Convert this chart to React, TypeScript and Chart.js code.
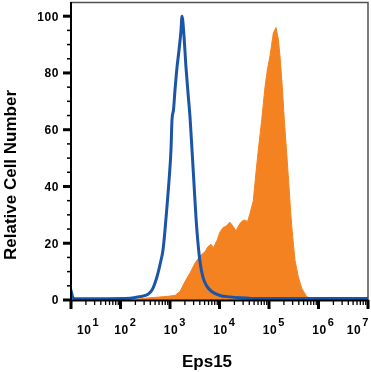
import { useEffect, useRef } from 'react';
import { Chart, registerables } from 'chart.js';

Chart.register(...registerables);

// Isotype control (blue outline)
const isotypeIntensity = [10, 11, 12.6, 155, 248, 360, 433, 498, 572, 658, 722, 793, 870, 955, 1047, 1097, 1177, 1262, 1385, 1520, 1668, 1746, 1917, 2104, 2310, 2535, 2782, 3053, 3350, 3678, 4036, 4641, 5590, 7050, 10230, 16290, 25940, 65800, 10000000];
const isotypeCount = [3.5, 0.8, 0.4, 0.6, 1.2, 2, 3.5, 6, 9.5, 14, 17.6, 24.7, 33, 42, 53, 63.5, 67, 74, 82, 88, 95, 100, 93, 82, 73, 64.5, 53, 41, 29, 20, 13.5, 8, 4.8, 2.9, 1.6, 1.1, 0.8, 0.5, 0.5];

// Eps15 antibody (orange filled)
const eps15Intensity = [10, 196, 248, 394, 793, 1262, 1592, 2009, 2535, 3199, 4036, 5093, 5861, 6734, 7568, 8900, 10233, 11770, 13530, 16290, 18750, 21530, 25940, 29850, 32740, 36810, 41300, 48200, 54600, 60800, 71300, 83000, 92500, 104700, 122200, 138400, 154100, 166800, 185700, 203700, 228000, 253600, 274300, 301000, 335000, 390800, 458000, 578000, 739000, 1072000, 10000000];
const eps15Count = [0, 0, 0.4, 0.8, 1.2, 1.6, 3, 6.5, 9.5, 13, 15.5, 17, 18.8, 19.6, 18.5, 21, 24, 25.5, 26, 27.4, 26, 24.4, 27, 28, 28.2, 27.6, 30.5, 35, 45, 52.9, 63.5, 75, 81, 86, 94, 96, 92, 86, 75, 63.5, 51.7, 40, 30.6, 22.3, 14, 8.2, 4.1, 1.2, 0.3, 0, 0];

const yTickValues = [0, 20, 40, 60, 80, 100];
const xDecadeExponents = [1, 2, 3, 4, 5, 6, 7];
const xTitle = 'Eps15';
const yTitle = 'Relative Cell Number';

const FONT = '"Liberation Sans", Arial, sans-serif';

const axesPlugin = {
  id: 'flowAxes',
  afterDraw(chart: any) {
    const ctx = chart.ctx as CanvasRenderingContext2D;
    const xs = chart.scales.x;
    const ys = chart.scales.y;
    const a = chart.chartArea;
    ctx.save();

    // frame (top / right)
    ctx.strokeStyle = '#505050';
    ctx.lineWidth = 1.5;
    ctx.beginPath();
    ctx.moveTo(a.left, a.top + 0.5);
    ctx.lineTo(a.right, a.top + 0.5);
    ctx.lineTo(a.right, a.bottom);
    ctx.stroke();

    // axes
    ctx.fillStyle = '#000';
    ctx.fillRect(a.left - 1, a.top, 2, a.bottom - a.top + 1);
    ctx.fillRect(a.left - 1, a.bottom - 0.5, a.right - a.left + 1.5, 2);

    // y ticks
    for (let v = 0; v <= 100; v += 5) {
      const p = ys.getPixelForValue(v);
      if (v % 20 === 0) ctx.fillRect(a.left - 8, p - 1.5, 8, 3);
      else ctx.fillRect(a.left - 4, p - 0.75, 4, 1.5);
    }
    ctx.font = `bold 12px ${FONT}`;
    (ctx as any).letterSpacing = '0.6px';
    ctx.textAlign = 'right';
    ctx.textBaseline = 'middle';
    for (const v of yTickValues) {
      const p = ys.getPixelForValue(v);
      ctx.fillText(String(v), a.left - 12, p + 1);
    }

    // x ticks
    for (const d of xDecadeExponents) {
      const p = xs.getPixelForValue(Math.pow(10, d));
      ctx.fillRect(p - 1.5, a.bottom, 3, 9);
      if (d < 7) {
        for (let k = 2; k <= 9; k++) {
          const q = xs.getPixelForValue(k * Math.pow(10, d));
          ctx.fillRect(q - 0.65, a.bottom, 1.3, 5);
        }
      }
    }
    // x labels: 10 with superscript exponent
    ctx.textBaseline = 'alphabetic';
    ctx.textAlign = 'left';
    for (const d of xDecadeExponents) {
      const p = xs.getPixelForValue(Math.pow(10, d));
      ctx.font = `bold 12px ${FONT}`;
      const w10 = ctx.measureText('10').width;
      ctx.font = `bold 11px ${FONT}`;
      const wsup = ctx.measureText(String(d)).width;
      let start = p + 1 - w10 / 2;
      if (start < a.left + 6) start = a.left + 6;
      if (start + w10 + 1 + wsup > 371) start = 371 - 2 - w10 - 1 - wsup;
      ctx.font = `bold 12px ${FONT}`;
      ctx.fillText('10', start, 334);
      ctx.font = `bold 11px ${FONT}`;
      ctx.fillText(String(d), start + w10 + 1, 326);
    }
    (ctx as any).letterSpacing = '0px';

    // titles
    ctx.font = `bold 17px ${FONT}`;
    ctx.textAlign = 'center';
    ctx.textBaseline = 'alphabetic';
    ctx.fillText(xTitle, 207, 367);

    ctx.save();
    ctx.translate(16, 175);
    ctx.rotate(-Math.PI / 2);
    ctx.font = `bold 17px ${FONT}`;
    ctx.textAlign = 'center';
    ctx.textBaseline = 'alphabetic';
    ctx.fillText(yTitle, 0, 0);
    ctx.restore();

    ctx.restore();
  },
};

export default function App() {
  const ref = useRef<HTMLCanvasElement | null>(null);
  useEffect(() => {
    if (!ref.current) return;
    const chart = new Chart(ref.current, {
      type: 'line',
      data: {
        datasets: [
          {
            label: 'Isotype',
            data: isotypeIntensity.map((x, i) => ({ x, y: isotypeCount[i] })),
            borderColor: '#1b55a8',
            borderWidth: 3,
            pointRadius: 0,
            fill: false,
            cubicInterpolationMode: 'monotone',
            order: 0,
          },
          {
            label: 'Eps15',
            data: eps15Intensity.map((x, i) => ({ x, y: eps15Count[i] })),
            borderColor: '#f58220',
            backgroundColor: '#f58220',
            borderWidth: 1,
            pointRadius: 0,
            fill: 'origin',
            tension: 0,
            order: 1,
          },
        ],
      },
      options: {
        animation: false,
        responsive: false,
        devicePixelRatio: 1,
        layout: { padding: { left: 71, right: 3, top: 2, bottom: 72 } },
        plugins: { legend: { display: false }, tooltip: { enabled: false } },
        scales: {
          x: { type: 'logarithmic', min: 10, max: 10000000, display: false },
          y: { type: 'linear', min: 0, max: 105, display: false },
        },
      },
      plugins: [axesPlugin],
    } as any);
    return () => chart.destroy();
  }, []);
  return (
    <div style={{ position: 'absolute', left: 0, top: 0, width: 371, height: 372, background: '#fff' }}>
      <canvas ref={ref} width={371} height={372} style={{ display: 'block' }} />
    </div>
  );
}
